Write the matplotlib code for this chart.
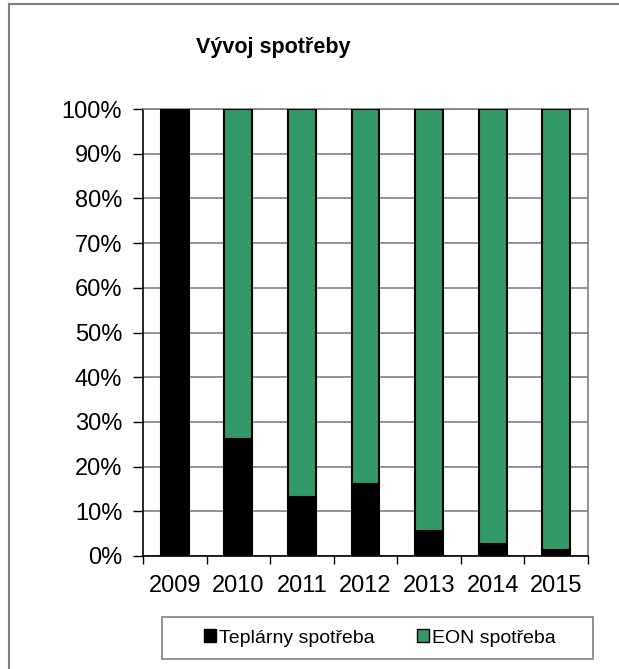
import matplotlib
matplotlib.use("Agg")
import matplotlib.pyplot as plt
from matplotlib.lines import Line2D
from matplotlib.patches import Rectangle, Patch
from matplotlib.ticker import FixedLocator, PercentFormatter

plt.rcParams['font.family'] = ['Liberation Sans', 'DejaVu Sans']

years = ["2009", "2010", "2011", "2012", "2013", "2014", "2015"]
teplarny = [100.0, 26.1, 13.2, 16.0, 5.7, 2.7, 1.4]
eon = [0.0, 73.9, 86.8, 84.0, 94.3, 97.3, 98.6]
series_names = ["Teplárny spotřeba", "EON spotřeba"]
title = "Vývoj spotřeby"

W, H = 619, 669
fig = plt.figure(figsize=(W / 100, H / 100), dpi=100)

def fx(px):
    return px / W

def fy(py):
    return 1 - py / H

ax = fig.add_axes([fx(143), fy(556), fx(588) - fx(143), fy(109) - fy(556)])

green = "#339966"
x = list(range(len(years)))
ax.bar(x, teplarny, width=0.44, color="black", edgecolor="black", linewidth=1.5, zorder=3)
ax.bar(x, eon, width=0.44, bottom=teplarny, color=green, edgecolor="black", linewidth=1.5, zorder=3)

ax.set_xlim(-0.5, len(years) - 0.5)
ax.set_ylim(0, 100)
ax.set_yticks(range(0, 101, 10))
ax.yaxis.set_major_formatter(PercentFormatter(decimals=0))
ax.yaxis.grid(True, color="#808080", linewidth=1.2, zorder=0)
ax.set_axisbelow(True)

ax.set_xticks(x)
ax.set_xticklabels(years)
ax.xaxis.set_minor_locator(FixedLocator([i - 0.5 for i in range(len(years) + 1)]))
ax.tick_params(axis='x', which='major', length=0, pad=14, labelsize=17)
ax.tick_params(axis='x', which='minor', length=6, width=1, color="black", direction='out')
ax.tick_params(axis='y', length=7, width=1, color="black", direction='out', pad=8, labelsize=17)

for s in ['left', 'bottom']:
    ax.spines[s].set_color("black")
    ax.spines[s].set_linewidth(1.2)
ax.spines['top'].set_color("#808080")
ax.spines['top'].set_linewidth(1.2)
ax.spines['right'].set_color("#808080")
ax.spines['right'].set_linewidth(1.2)

fig.text(fx(273), fy(48), title, ha='center', va='center', fontsize=15.5, fontweight='bold')

# legend box
fig.patches.append(Rectangle((fx(162), fy(659)), fx(593) - fx(162), fy(617) - fy(659),
                             transform=fig.transFigure, fill=False, edgecolor="#808080", linewidth=1.2))
handles = [Patch(facecolor="black", edgecolor="black", linewidth=1),
           Patch(facecolor=green, edgecolor="black", linewidth=1)]
fig.legend(handles, series_names, loc='center', bbox_to_anchor=(fx(380), fy(638)),
           ncol=2, frameon=False, fontsize=14, handlelength=0.6, handleheight=0.6,
           handletextpad=0.15, columnspacing=2.2, borderpad=0)

# outer chart border (left and top visible)
fig.add_artist(Line2D([fx(9), fx(9)], [fy(669), fy(4)], transform=fig.transFigure, color="#808080", linewidth=1.5))
fig.add_artist(Line2D([fx(9), fx(619)], [fy(4), fy(4)], transform=fig.transFigure, color="#808080", linewidth=1.5))

fig.savefig("out.png", dpi=100)
